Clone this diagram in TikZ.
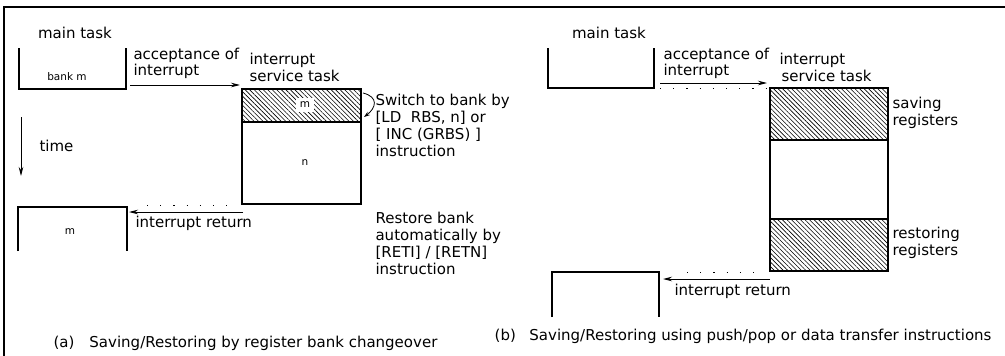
\documentclass[tikz,border=0pt]{standalone}
\usepackage{fontspec}
\setmainfont{DejaVu Sans}
\usetikzlibrary{arrows.meta, positioning, calc, patterns.meta}

\tikzset{
  lbl/.style={font=\fontsize{15}{17}\selectfont, inner sep=0pt, align=left},
  small/.style={font=\fontsize{10.5}{12}\selectfont, inner sep=1pt},
  area/.style={inner sep=0pt, outer sep=0pt, minimum width=#1},
  hatch/.style={pattern={Lines[angle=-45,distance=3.2pt,line width=0.6pt]}},
  flow/.style={line width=0.9pt, -{Stealth[length=9pt,width=4.5pt]}},
  trail/.style={line width=0.8pt, dash pattern=on 1.2pt off 12pt}
}

\begin{document}
\begin{tikzpicture}[x=1pt, y=-1pt, line width=1.1pt]
  \useasboundingbox (0,0) rectangle (1005,356);
  % frame (cut)
  \draw[line width=1.4pt] (1005,7) -- (4,7) -- (4,356);

  %% (a) register bank changeover
  \node[lbl] (mtA) at (75,33) {main task};
  \node[area=107pt, minimum height=41pt] (mainA) at (72.5,68.5) {};
  \draw (mainA.north west) -- (mainA.south west) -- (mainA.south east) -- (mainA.north east);
  \node[small] (bankm) at (67,77) {bank m};

  \node[area=119pt, minimum height=115pt, draw] (srvA) at (301.5,146.5) {};
  \node[area=119pt, minimum height=33pt, draw, hatch] (hatA) at (301.5,105.5) {};
  \node[small, fill=white, inner sep=4pt] (mA) at (305,105) {m};
  \node[small] (nA) at (305,163) {n};
  \node[lbl, anchor=north west] (isrA) at (249,53) {interrupt\\service task};

  \draw[flow] ($(mainA.south east)+(4,-4)$) -- ($(srvA.north west)+(-2,-4)$);
  \node[lbl, anchor=north west, font=\fontsize{15}{13.5}\selectfont] (accA) at (133,48) {acceptance of\\interrupt};

  \draw[line width=0.8pt, -{Stealth[length=6pt,width=4pt]}]
    ($(hatA.north east)+(2,4)$) .. controls +(16,4) and +(12,-9) .. ($(hatA.south east)+(3,-5)$);
  \node[lbl, anchor=north west] (swA) at (375,94) {Switch to bank by\\{[}LD~~RBS, n{]} or\\{[} INC (GRBS) {]}\\instruction};

  \coordinate (t0) at (21,117);
  \coordinate (t1) at (21,176);
  \draw[flow] (t0) -- (t1);
  \node[lbl, anchor=west] (timeA) at (39,146) {time};

  \node[area=109pt, minimum height=44pt] (retA) at (72.5,229) {};
  \draw (retA.south west) -- (retA.north west) -- (retA.north east) -- (retA.south east);
  \node[small] (mA2) at (70,232) {m};

  \draw[trail] ($(retA.north east)+(20,-2)$) -- ($(srvA.south west)+(-15,1)$);
  \draw[flow] ($(srvA.south west)+(1,8)$) -- ($(retA.north east)+(2,5)$);
  \node[lbl, anchor=west] (irA) at (135,223) {interrupt return};
  \node[lbl, anchor=north west] (rsA) at (375,212) {Restore bank\\automatically by\\{[}RETI{]} / {[}RETN{]}\\instruction};

  \node[lbl, anchor=west] (capA) at (53,343) {(a)\hspace{1em}Saving/Restoring by register bank changeover};

  %% (b) push/pop or data transfer
  \node[lbl] (mtB) at (609,33) {main task};
  \node[area=106pt, minimum height=40pt] (mainB) at (601,68) {};
  \draw (mainB.north west) -- (mainB.south west) -- (mainB.south east) -- (mainB.north east);

  \node[area=118pt, minimum height=183pt, draw] (srvB) at (829,179.5) {};
  \node[area=118pt, minimum height=52pt, draw, hatch] (savB) at (829,114) {};
  \node[area=118pt, minimum height=52pt, draw, hatch] (rstB) at (829,245) {};
  \node[lbl, anchor=north west] (isrB) at (779,53) {interrupt\\\hspace{2pt}service task};

  \draw[trail] ($(mainB.south east)+(6,0)$) -- (srvB.north west);
  \draw[flow] ($(mainB.south east)+(6,-5)$) -- ($(srvB.north west)+(-3,-5)$);
  \node[lbl, anchor=north west, font=\fontsize{15}{13.5}\selectfont] (accB) at (663,48) {acceptance of\\interrupt};

  \node[lbl, anchor=north west] (svl) at (892,97) {saving\\registers};
  \node[lbl, anchor=north west] (rsl) at (892,227) {restoring\\registers};

  \node[area=107pt, minimum height=45pt] (retB) at (605.5,294.5) {};
  \draw (retB.south west) -- (retB.north west) -- (retB.north east) -- (retB.south east);

  \draw[trail] ($(retB.north east)+(28,0)$) -- ($(srvB.south west)+(-10,1)$);
  \draw[flow] ($(srvB.south west)+(0,8)$) -- ($(retB.north east)+(4,7)$);
  \node[lbl, anchor=west] (irB) at (674,291) {interrupt return};

  \node[lbl, anchor=east] (capB) at (992,336) {(b)\hspace{0.9em}Saving/Restoring using push/pop or data transfer instructions};
\end{tikzpicture}
\end{document}
